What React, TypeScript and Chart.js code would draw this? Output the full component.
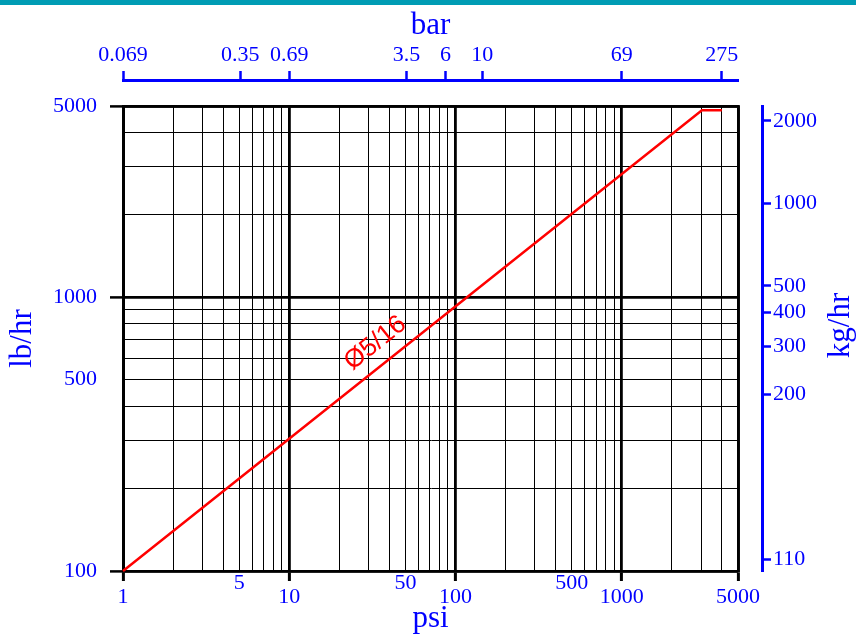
import React, { useEffect, useRef } from 'react';
import { Chart, registerables } from 'chart.js';

Chart.register(...registerables);

// ---- data ----
const psiGrid = [1, 2, 3, 4, 5, 6, 7, 8, 9, 10, 20, 30, 40, 50, 60, 70, 80, 90, 100, 200, 300, 400, 500, 600, 700, 800, 900, 1000, 2000, 3000, 4000, 5000];
const psiLabelled = [1, 5, 10, 50, 100, 500, 1000, 5000];
const psiMajor = [1, 10, 100, 1000, 5000];

const lbGrid = [100, 200, 300, 400, 500, 600, 700, 800, 900, 1000, 2000, 3000, 4000, 5000];
const lbLabelled = [100, 500, 1000, 5000];
const lbMajor = [100, 1000, 5000];

const barTicks = [0.069, 0.35, 0.69, 3.5, 6, 10, 69, 275];
const barTickLabels = ['0.069', '0.35', '0.69', '3.5', '6', '10', '69', '275'];

// kg/hr axis: tick positions (kg) and the labels printed there
const kgTickValues = [50, 200, 300, 400, 500, 1000, 2000];
const kgTickLabels = ['110', '200', '300', '400', '500', '1000', '2000'];

// flow curve
const flowPsi = [1, 3034, 4000];
const flowLb = [100, 4822, 4822];
const lineLabel = 'Ø5/16';
const lineLabelPsi = 33;
const lineLabelLb = 680;

const PSI_MIN = 1;
const PSI_MAX = 5000;
const LB_MIN = 100;
const LB_MAX = 5000;
const PSI_PER_BAR = 14.5038;
const LB_PER_KG = 2.20462;

// ---- styles ----
const BLUE = '#0000ff';
const SERIF = '"Liberation Serif", "Times New Roman", serif';
const TEAL = '#009cb4';
const TICK_FONT = 22;
const TITLE_FONT = 31;

const overlayPlugin = {
  id: 'overlay',
  afterDatasetsDraw(chart: any) {
    const { ctx, scales } = chart;
    const xs = scales.x;
    const ys = scales.y;
    const x0 = xs.getPixelForValue(flowPsi[0]);
    const y0 = ys.getPixelForValue(flowLb[0]);
    const x1 = xs.getPixelForValue(flowPsi[1]);
    const y1 = ys.getPixelForValue(flowLb[1]);
    const ang = Math.atan2(y1 - y0, x1 - x0);
    ctx.save();
    ctx.translate(xs.getPixelForValue(lineLabelPsi), ys.getPixelForValue(lineLabelLb));
    ctx.rotate(ang);
    ctx.font = '26px "Liberation Sans", Arial, sans-serif';
    ctx.fillStyle = '#ff0000';
    ctx.textAlign = 'center';
    ctx.textBaseline = 'middle';
    ctx.fillText(lineLabel, 0, 0);
    ctx.restore();

    const kg = scales.yKg;
    ctx.save();
    ctx.translate(kg.right - 15, (kg.top + kg.bottom) / 2 - 13);
    ctx.rotate(-Math.PI / 2);
    ctx.font = TITLE_FONT + 'px ' + SERIF;
    ctx.fillStyle = BLUE;
    ctx.textAlign = 'center';
    ctx.textBaseline = 'middle';
    ctx.fillText('kg/hr', 0, 0);
    ctx.restore();
  },
};

export default function App() {
  const ref = useRef<HTMLCanvasElement>(null);

  useEffect(() => {
    const chart = new Chart(ref.current as HTMLCanvasElement, {
      type: 'line',
      data: {
        datasets: [
          {
            data: flowPsi.map((x, i) => ({ x, y: flowLb[i] })),
            borderColor: '#ff0000',
            borderWidth: 2.5,
            pointRadius: 0,
            fill: false,
            tension: 0,
            clip: false as any,
            xAxisID: 'x',
            yAxisID: 'y',
          },
        ],
      },
      options: {
        animation: false,
        responsive: false,
        maintainAspectRatio: false,
        layout: { padding: 0 },
        plugins: { legend: { display: false }, tooltip: { enabled: false } },
        scales: {
          x: {
            type: 'logarithmic',
            position: 'bottom',
            min: PSI_MIN,
            max: PSI_MAX,
            afterBuildTicks: (s: any) => {
              s.ticks = psiGrid.map((v) => ({ value: v }));
            },
            afterFit: (s: any) => {
              s.height = 63;
            },
            ticks: {
              autoSkip: false,
              maxRotation: 0,
              minRotation: 0,
              color: BLUE,
              padding: -5,
              font: { family: SERIF, size: TICK_FONT, lineHeight: 14 / TICK_FONT },
              callback: (v: any) => {
                const n = Number(v);
                if (!psiLabelled.includes(n)) return '';
                return psiMajor.includes(n) ? ['', String(n)] : String(n);
              },
            },
            grid: {
              color: '#000',
              lineWidth: (c: any) => (psiMajor.includes(c.tick?.value) ? 2.8 : 1),
              tickLength: 10,
              tickColor: (c: any) => (psiMajor.includes(c.tick?.value) ? '#000' : 'rgba(0,0,0,0)'),
              tickWidth: 3,
            },
            border: { color: '#000', width: 2.5 },
            title: {
              display: true,
              text: 'psi',
              color: BLUE,
              font: { family: SERIF, size: TITLE_FONT, lineHeight: 1 },
              padding: { top: 0, bottom: 0 },
            },
          },
          y: {
            type: 'logarithmic',
            position: 'left',
            min: LB_MIN,
            max: LB_MAX,
            afterBuildTicks: (s: any) => {
              s.ticks = lbGrid.map((v) => ({ value: v }));
            },
            afterFit: (s: any) => {
              s.width = 123;
            },
            ticks: {
              autoSkip: false,
              color: BLUE,
              padding: 13,
              font: { family: SERIF, size: TICK_FONT },
              callback: (v: any) => (lbLabelled.includes(Number(v)) ? String(v) : ''),
            },
            grid: {
              color: '#000',
              lineWidth: (c: any) => (lbMajor.includes(c.tick?.value) ? 2.8 : 1),
              tickLength: 13,
              tickColor: (c: any) => (lbMajor.includes(c.tick?.value) ? '#000' : 'rgba(0,0,0,0)'),
              tickWidth: 2.5,
            },
            border: { color: '#000', width: 3 },
            title: {
              display: true,
              text: 'lb/hr',
              color: BLUE,
              font: { family: SERIF, size: TITLE_FONT, lineHeight: 1 },
              padding: { top: 7, bottom: 0 },
            },
          },
          ySpacer: {
            type: 'linear',
            position: 'right',
            weight: 0,
            min: 0,
            max: 1,
            afterFit: (s: any) => {
              s.width = 24;
            },
            ticks: { display: false },
            grid: { drawOnChartArea: false, drawTicks: false },
            border: { color: '#000', width: 2.8 },
          },
          yKg: {
            type: 'logarithmic',
            position: 'right',
            weight: 1,
            min: LB_MIN / LB_PER_KG,
            max: LB_MAX / LB_PER_KG,
            afterBuildTicks: (s: any) => {
              s.ticks = kgTickValues.map((v) => ({ value: v }));
            },
            afterFit: (s: any) => {
              s.width = 94;
            },
            ticks: {
              autoSkip: false,
              color: BLUE,
              padding: 2,
              font: { family: SERIF, size: TICK_FONT },
              callback: (_v: any, i: number) => kgTickLabels[i],
            },
            grid: {
              drawOnChartArea: false,
              tickLength: 9,
              tickColor: BLUE,
              tickWidth: 2.5,
            },
            border: { color: BLUE, width: 3 },
          },
          xTopSpacer: {
            type: 'linear',
            position: 'top',
            weight: 0,
            min: 0,
            max: 1,
            afterFit: (s: any) => {
              s.height = 26;
            },
            ticks: { display: false },
            grid: { drawOnChartArea: false, drawTicks: false },
            border: { color: '#000', width: 2.8 },
          },
          xBar: {
            type: 'logarithmic',
            position: 'top',
            weight: 1,
            min: PSI_MIN / PSI_PER_BAR,
            max: PSI_MAX / PSI_PER_BAR,
            afterBuildTicks: (s: any) => {
              s.ticks = barTicks.map((v) => ({ value: v }));
            },
            afterFit: (s: any) => {
              s.height = 80;
            },
            ticks: {
              autoSkip: false,
              maxRotation: 0,
              minRotation: 0,
              color: BLUE,
              padding: 5,
              font: { family: SERIF, size: TICK_FONT, lineHeight: 1 },
              callback: (_v: any, i: number) => barTickLabels[i],
            },
            grid: {
              drawOnChartArea: false,
              tickLength: 9,
              tickColor: BLUE,
              tickWidth: 2.5,
            },
            border: { color: BLUE, width: 3 },
            title: {
              display: true,
              text: 'bar',
              color: BLUE,
              font: { family: SERIF, size: TITLE_FONT, lineHeight: 1 },
              padding: { top: 10, bottom: 0 },
            },
          },
        },
      } as any,
      plugins: [overlayPlugin],
    });
    return () => chart.destroy();
  }, []);

  return (
    <div
      style={{
        position: 'absolute',
        left: 0,
        top: 0,
        width: 856,
        height: 634,
        background: '#fff',
        overflow: 'hidden',
      }}
    >
      <canvas ref={ref} width={856} height={634} style={{ display: 'block', width: 856, height: 634 }} />
      <div style={{ position: 'absolute', left: 0, top: 0, width: 856, height: 5, background: TEAL }} />
    </div>
  );
}
